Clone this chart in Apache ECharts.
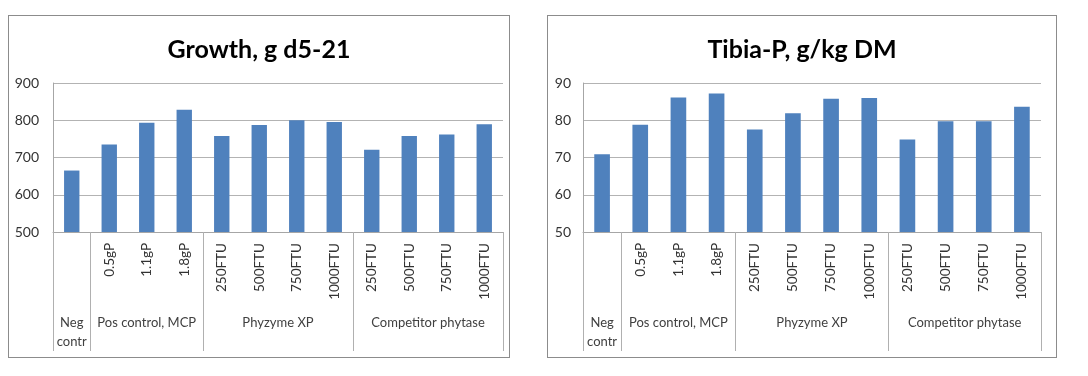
<!DOCTYPE html>
<html>
<head>
<meta charset="utf-8">
<script src="https://cdn.jsdelivr.net/npm/echarts@6/dist/echarts.min.js"></script>
<style>
    body { margin: 0; background: #fff; }
    .box { position: absolute; top: 15px; height: 341px; border: 1px solid #8c8c8c; box-sizing: content-box; }
</style>
</head>
<body>
<div id="growth" class="box" style="left:8px;width:500px;"></div>
<div id="tibia" class="box" style="left:547px;width:508px;"></div>
<script>
// categories (inner level) and groups (outer level)
const categories = ['', '0.5gP', '1.1gP', '1.8gP', '250FTU', '500FTU', '750FTU', '1000FTU', '250FTU', '500FTU', '750FTU', '1000FTU'];
const groupNames = ['Neg\ncontr', 'Pos control, MCP', 'Phyzyme XP', 'Competitor phytase'];
const groupSizes = [1, 3, 4, 4];

// series values
const growthValues = [665, 735, 793, 828, 758, 787, 800, 795, 721, 758, 762, 789];
const tibiaValues = [70.9, 78.8, 86.1, 87.2, 77.5, 81.9, 85.8, 86.0, 74.8, 79.7, 79.7, 83.6];

// y axis ticks
const growthTicks = [500, 600, 700, 800, 900];
const tibiaTicks = [50, 60, 70, 80, 90];

// outer axis: half-unit slots, labels at group centres, ticks at group edges
function buildGroupAxis() {
    let slots = [], edges = [0], pos = 0;
    for (let i = 0; i <= categories.length * 2; i++) slots.push('');
    groupSizes.forEach((s, i) => {
        slots[pos * 2 + s] = groupNames[i];
        pos += s;
        edges.push(pos * 2);
    });
    return { slots, edges };
}

function makeOption(title, values, ticks, gridLeft, gridRight, labelMargin) {
    let g = buildGroupAxis();
    let font = 'Lato, "Open Sans", sans-serif';
    return {
        animation: false,
        title: {
            text: title,
            left: 'center',
            top: 16,
            textStyle: { fontFamily: font, fontSize: 25, fontWeight: 'bold', color: '#000' }
        },
        grid: { left: gridLeft, right: gridRight, top: 67, bottom: 125 },
        xAxis: [
            {
                type: 'category',
                data: categories,
                position: 'bottom',
                axisLine: { lineStyle: { color: '#a6a6a6', width: 1 } },
                axisTick: { show: false },
                axisLabel: { rotate: 90, interval: 0, margin: 11, color: '#333', fontFamily: font, fontSize: 13.5 }
            },
            {
                type: 'category',
                data: g.slots,
                boundaryGap: false,
                position: 'bottom',
                offset: 0,
                axisLine: { show: false },
                axisTick: {
                    show: true,
                    length: 119,
                    interval: (idx) => g.edges.indexOf(idx) >= 0,
                    lineStyle: { color: '#b0b0b0' }
                },
                axisLabel: {
                    interval: 0, margin: 81, color: '#404040', fontFamily: font, fontSize: 13,
                    lineHeight: 19, verticalAlign: 'top'
                }
            }
        ],
        yAxis: {
            type: 'value',
            min: ticks[0],
            max: ticks[ticks.length - 1],
            interval: ticks[1] - ticks[0],
            axisLine: { show: true, lineStyle: { color: '#a6a6a6' } },
            axisTick: { show: false },
            axisLabel: { margin: labelMargin, color: '#333', fontFamily: font, fontSize: 14 },
            splitLine: { lineStyle: { color: '#b3b3b3' } }
        },
        series: [{
            type: 'bar',
            xAxisIndex: 0,
            data: values,
            barWidth: '41%',
            itemStyle: { color: '#4f81bd' }
        }]
    };
}

let growthChart = echarts.init(document.getElementById('growth'));
growthChart.setOption(makeOption('Growth, g d5-21', growthValues, growthTicks, 44, 6, 14));

let tibiaChart = echarts.init(document.getElementById('tibia'));
tibiaChart.setOption(makeOption('Tibia-P, g/kg DM', tibiaValues, tibiaTicks, 35, 15, 12));
</script>
</body>
</html>
